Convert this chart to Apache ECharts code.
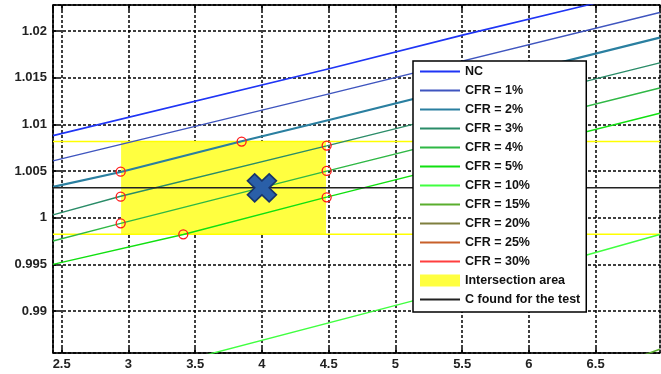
<!DOCTYPE html>
<html><head><meta charset="utf-8">
<script src="https://cdn.jsdelivr.net/npm/echarts@6/dist/echarts.min.js"></script>
<style>html,body{margin:0;padding:0;background:#fff}#c{width:661px;height:374px}</style>
</head><body><div id="c"></div>
<script>
// ---- axis limits ----
const xRange = [2.435, 6.982];
const yRange = [0.9855, 1.0228];

// ---- legend / series names ----
const seriesNames = ['NC','CFR = 1%','CFR = 2%','CFR = 3%','CFR = 4%','CFR = 5%','CFR = 10%','CFR = 15%','CFR = 20%','CFR = 25%','CFR = 30%'];
const areaName = 'Intersection area';
const cName = 'C found for the test';

// ---- curve data [x, C] ----
const lineNC    = [[2.435,1.0088],[4.51,1.0160],[5.51,1.0196],[6.44,1.0228],[6.98,1.0247]];
const lineCFR1  = [[2.435,1.0061],[4.51,1.0133],[6.98,1.0220]];
const lineCFR2  = [[2.435,1.0033],[2.942,1.0049],[3.848,1.0082],[4.51,1.0105],[6.98,1.0193]];
const lineCFR3  = [[2.435,1.0003],[2.942,1.0023],[4.485,1.0077],[6.98,1.0166]];
const lineCFR4  = [[2.435,0.9975],[2.942,0.9994],[4.485,1.0050],[6.98,1.0139]];
const lineCFR5  = [[2.435,0.9950],[3.411,0.9982],[4.485,1.0022],[6.98,1.0112]];
const lineCFR10 = [[2.435,0.9810],[3.624,0.98545],[5.109,0.9910],[6.433,0.9960],[6.98,0.9982]];
const lineCFR15 = [[6.5,0.9837],[6.894,0.98545],[6.98,0.9859]];
const lineCFR20 = [];   // outside the visible range
const lineCFR25 = [];
const lineCFR30 = [];
const lineData = [lineNC,lineCFR1,lineCFR2,lineCFR3,lineCFR4,lineCFR5,lineCFR10,lineCFR15,lineCFR20,lineCFR25,lineCFR30];

// ---- intersection area and found C ----
const intersectionX = [2.945, 4.48];
const intersectionY = [0.99822, 1.00816];
const cFound = 1.0032;
const crossPoint = [4.0, 1.0032];
const circlePoints = [[2.942,1.00494],[2.942,1.00226],[2.942,0.99940],[3.411,0.99822],[3.848,1.00816],[4.485,1.00773],[4.485,1.00502],[4.485,1.00219]];

// ---- styles ----
const colors = ['#1f35f5','#3f55bf','#2a7fa0','#2a8c68','#2fb845','#10e010','#40ff40','#5aae2e','#7f7f3f','#c8602a','#ff3f3f'];
const widths = [1.6,1.4,2.2,1.4,1.4,1.4,1.4,1.6,1.6,2.4,1.6];
const FONT = '"Liberation Sans", Arial, sans-serif';

function fmt(v){ return String(parseFloat(v.toFixed(4))); }

const series = [];
series.push({
  name: areaName, type: 'custom', z: 1, silent: true,
  itemStyle: {color: '#ffff40'},
  encode: {x:[0,1], y:[2,3]},
  data: [[intersectionX[0], intersectionX[1], intersectionY[0], intersectionY[1]]],
  renderItem: function(params, api){
    const pTL = api.coord([api.value(0), api.value(3)]);
    const pBR = api.coord([api.value(1), api.value(2)]);
    const cs = params.coordSys;
    return {type:'group', children:[
      {type:'rect', shape:{x:pTL[0], y:pTL[1], width:pBR[0]-pTL[0], height:pBR[1]-pTL[1]}, style:{fill:'#ffff40'}},
      {type:'line', shape:{x1:cs.x, y1:pTL[1], x2:cs.x+cs.width, y2:pTL[1]}, style:{stroke:'#ffff00', lineWidth:1.5}},
      {type:'line', shape:{x1:cs.x, y1:pBR[1], x2:cs.x+cs.width, y2:pBR[1]}, style:{stroke:'#ffff00', lineWidth:1.5}}
    ]};
  }
});
seriesNames.forEach((n,i)=>{
  series.push({name:n, type:'line', z:2, symbol:'none', silent:true, clip:true,
    data: lineData[i], lineStyle:{color:colors[i], width:widths[i]}, itemStyle:{color:colors[i]}});
});
series.push({name:cName, type:'line', z:3, symbol:'none', silent:true,
  data:[[xRange[0],cFound],[xRange[1],cFound]], lineStyle:{color:'#222', width:1.5}, itemStyle:{color:'#333'}});
series.push({name:'circles', type:'scatter', z:4, silent:true, symbol:'circle', symbolSize:9,
  data: circlePoints, itemStyle:{color:'rgba(0,0,0,0)', borderColor:'#ff1a1a', borderWidth:1.3, opacity:1}});
series.push({name:'cross', type:'scatter', z:5, silent:true,
  symbol:'path://M -1 -0.5 L -0.5 -1 L 0 -0.5 L 0.5 -1 L 1 -0.5 L 0.5 0 L 1 0.5 L 0.5 1 L 0 0.5 L -0.5 1 L -1 0.5 L -0.5 0 Z',
  symbolSize:[29,28], data:[crossPoint], itemStyle:{color:'#2a5fa8', borderColor:'#17346a', borderWidth:1.6, opacity:1}});

const axisLabelStyle = {fontFamily:FONT, fontWeight:'bold', fontSize:13, color:'#222', showMinLabel:false, showMaxLabel:false, formatter:fmt};
const gridLine = {show:true, lineStyle:{color:'#000', width:1.5, type:[3,2]}};

const option = {
  animation:false,
  backgroundColor:'#fff',
  grid:{left:53, right:1, top:5, bottom:21, show:true, borderColor:'#555', borderWidth:1},
  xAxis:[
    {type:'value', min:xRange[0], max:xRange[1], splitNumber:9, position:'bottom',
     axisLine:{show:true, onZero:false, lineStyle:{color:'#000', width:1.5}},
     axisTick:{show:true, inside:true, length:5, lineStyle:{color:'#000', width:1.5}},
     axisLabel:Object.assign({margin:5}, axisLabelStyle), splitLine:gridLine},
    {type:'value', min:xRange[0], max:xRange[1], splitNumber:9, position:'top',
     axisLine:{show:true, onZero:false, lineStyle:{color:'#000', width:1.5}},
     axisTick:{show:true, inside:true, length:5, lineStyle:{color:'#000', width:1.5}},
     axisLabel:{show:false}, splitLine:{show:false}}
  ],
  yAxis:[
    {type:'value', min:yRange[0], max:yRange[1], splitNumber:7, position:'left',
     axisLine:{show:true, onZero:false, lineStyle:{color:'#000', width:1.5}},
     axisTick:{show:true, inside:true, length:5, lineStyle:{color:'#000', width:1.5}},
     axisLabel:Object.assign({margin:6}, axisLabelStyle), splitLine:gridLine}
  ],
  legend:{
    orient:'vertical', left:413, top:61, selectedMode:false,
    itemWidth:40, itemHeight:12, itemGap:6,
    padding:[4,6,6,6], backgroundColor:'#fff', borderColor:'#000', borderWidth:1.5,
    itemStyle:{opacity:0},
    textStyle:{fontFamily:FONT, fontWeight:'bold', fontSize:12.5, color:'#111', lineHeight:12},
    data: seriesNames.map(n=>({name:n})).concat([
      {name:areaName, icon:'rect', itemStyle:{opacity:1, color:'#ffff40'}},
      {name:cName}])
  },
  series: series
};
const chart = echarts.init(document.getElementById('c'), null, {renderer:'canvas'});
chart.setOption(option);
</script>
</body></html>
